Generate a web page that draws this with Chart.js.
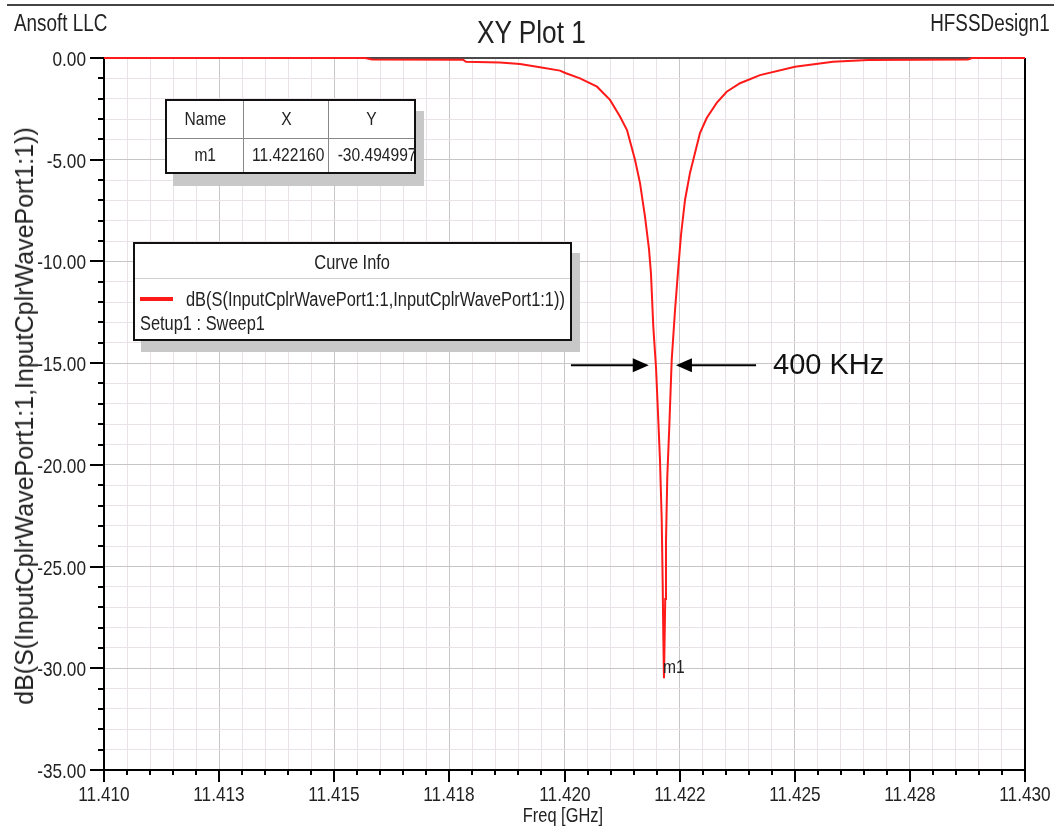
<!DOCTYPE html>
<html>
<head>
<meta charset="utf-8">
<script src="https://cdn.jsdelivr.net/npm/chart.js@4/dist/chart.umd.min.js"></script>
<style>
  body { margin: 0; background: #fff; }
  #wrap { position: relative; width: 1054px; height: 834px; overflow: hidden;
    font-family: "Liberation Sans", Arial, sans-serif; color: #222; }
  #plot { position: absolute; left: 0; top: 0; }
  .abs { position: absolute; white-space: nowrap; }
  /* the original uses a narrow face; squeeze Liberation Sans to match */
  .n { display: inline-block; transform: scaleX(0.82); transform-origin: center; }
  .nl { transform-origin: left center; }
  .nr { transform-origin: right center; }
  #topline { left: 7px; top: 4px; width: 1047px; height: 2px; background: #444; }
  #company { left: 14px; top: 8px; font-size: 23px; line-height: 30px; }
  #title { left: 0; width: 1062px; top: 14px; font-size: 32px; line-height: 36px; text-align: center; }
  #design { right: 4px; top: 8px; font-size: 23px; line-height: 30px; }
  #xtitle { left: 104px; width: 918px; top: 803px; font-size: 20px; line-height: 24px; text-align: center; }
  #ytitle { left: 24px; top: 416px; font-size: 25px; line-height: 28px;
    transform: translate(-50%, -50%) rotate(-90deg); }
  #marker { left: 165px; top: 99px; width: 251px; height: 75px; border-collapse: collapse; table-layout: fixed;
    border: 2px solid #111; background: #fff; box-shadow: 8px 12px 0 #c8c8c8; font-size: 19px; }
  #marker td { border: 1px solid #888; text-align: center; padding: 0; white-space: nowrap; }
  #curveinfo { left: 133px; top: 242px; width: 439px; height: 99px; box-sizing: border-box;
    border: 2px solid #111; background: #fff; box-shadow: 8px 11px 0 #c8c8c8; font-size: 20px; }
  #ci-head { height: 34px; line-height: 36px; text-align: center; border-bottom: 1px solid #d0d0d0; }
  #ci-swatch { left: 5px; top: 53px; width: 33px; height: 4px; background: #ff1a1a; }
  #ci-name { left: 51px; top: 43px; line-height: 24px; }
  #ci-setup { left: 5px; top: 67px; line-height: 24px; }
</style>
</head>
<body>
<div id="wrap">
  <canvas id="plot" width="1054" height="834"></canvas>
  <div id="topline" class="abs"></div>
  <div id="company" class="abs"><span class="n nl">Ansoft LLC</span></div>
  <div id="title" class="abs"><span class="n">XY Plot 1</span></div>
  <div id="design" class="abs"><span class="n nr">HFSSDesign1</span></div>
  <div id="xtitle" class="abs"><span class="n">Freq [GHz]</span></div>
  <div id="ytitle" class="abs">dB(S(InputCplrWavePort1:1,InputCplrWavePort1:1))</div>
  <table id="marker" class="abs">
    <tr style="height:38px"><td style="width:76px"><span class="n">Name</span></td><td style="width:84px"><span class="n">X</span></td><td><span class="n">Y</span></td></tr>
    <tr><td><span class="n">m1</span></td><td><span class="n">11.422160</span></td><td><span class="n">-30.494997</span></td></tr>
  </table>
  <div id="curveinfo" class="abs">
    <div id="ci-head"><span class="n">Curve Info</span></div>
    <div id="ci-swatch" class="abs"></div>
    <div id="ci-name" class="abs"><span class="n nl">dB(S(InputCplrWavePort1:1,InputCplrWavePort1:1))</span></div>
    <div id="ci-setup" class="abs"><span class="n nl">Setup1 : Sweep1</span></div>
  </div>
</div>
<script>
// sweep
const freqGHz = [
  11.410000, 11.415668, 11.415820, 11.417796, 11.417861, 11.418599, 11.419034, 11.419468,
  11.419902, 11.420033, 11.420337, 11.420706, 11.420988, 11.421205, 11.421357, 11.421531,
  11.421640, 11.421748, 11.421835, 11.421878, 11.421928, 11.421987, 11.422037, 11.422074,
  11.422111, 11.422132, 11.422145, 11.422160, 11.422176, 11.422187, 11.422204, 11.422232,
  11.422276, 11.422328, 11.422400, 11.422465, 11.422530, 11.422617, 11.422725, 11.422797,
  11.422942, 11.423088, 11.423305, 11.423522, 11.423811, 11.424245, 11.425005, 11.425831,
  11.426591, 11.428762, 11.428849, 11.430000
];
const s11dB = [
  0, 0, -0.07, -0.08, -0.19, -0.22, -0.30, -0.45,
  -0.62, -0.75, -1.00, -1.41, -2.06, -2.88, -3.54, -5.00,
  -6.15, -7.80, -9.40, -10.6, -13.2, -15.2, -17.8, -19.8,
  -22.7, -25.8, -28.3, -30.494997, -28.3, -26.6, -23.8, -20.6,
  -18.1, -14.85, -12.4, -10.5, -8.7, -6.98, -5.65, -5.00,
  -3.69, -2.95, -2.21, -1.66, -1.24, -0.84, -0.43, -0.18,
  -0.10, -0.07, 0, 0
];

const xTickLabels = ['11.410', '11.413', '11.415', '11.418', '11.420', '11.422', '11.425', '11.428', '11.430'];
const yTickLabels = ['-35.00', '-30.00', '-25.00', '-20.00', '-15.00', '-10.00', '-5.00', '0.00'];

const markerF = 11.422160;
const markerDb = -30.494997;
const bwArrowDb = -15.1;
const bwLeft = [11.42014, 11.42183];
const bwRight = [11.42416, 11.42242];

const FONT = '"Liberation Sans", Arial, sans-serif';
const SQUEEZE = 0.82;
const MAJOR = '#c6c6c6';
const MINOR = '#e9e3e9';

function minorTicks(min, step, count) {
  const out = [];
  for (let i = 0; i <= count; i++) out.push({ value: min + i * step });
  return out;
}

function narrowText(ctx, text, x, y, align) {
  ctx.save();
  ctx.translate(x, y);
  ctx.scale(SQUEEZE, 1);
  ctx.textAlign = align;
  ctx.fillText(text, 0, 0);
  ctx.restore();
}

const decorations = {
  id: 'decorations',
  beforeDatasetsDraw(chart) {
    const { ctx, chartArea: a } = chart;
    ctx.save();
    ctx.lineWidth = 2;
    ctx.strokeStyle = '#4a4a4a';
    ctx.beginPath(); ctx.moveTo(a.left, a.top); ctx.lineTo(a.right, a.top); ctx.stroke();
    ctx.strokeStyle = '#000';
    ctx.beginPath(); ctx.moveTo(a.right, a.top); ctx.lineTo(a.right, a.bottom + 1); ctx.stroke();
    ctx.restore();
  },
  afterDraw(chart) {
    const { ctx, chartArea: a, scales: { x, y } } = chart;
    ctx.save();
    ctx.strokeStyle = '#000';
    ctx.fillStyle = '#222';
    ctx.lineWidth = 2;
    ctx.font = '21px ' + FONT;
    ctx.textBaseline = 'alphabetic';
    x.ticks.forEach((t, i) => {
      const px = Math.round(x.getPixelForValue(t.value));
      const major = i % 5 === 0;
      ctx.beginPath(); ctx.moveTo(px, a.bottom); ctx.lineTo(px, a.bottom + (major ? 12 : 5)); ctx.stroke();
      if (major) narrowText(ctx, xTickLabels[i / 5], px, a.bottom + 31, 'center');
    });
    y.ticks.forEach((t, i) => {
      const py = Math.round(y.getPixelForValue(t.value));
      const major = i % 5 === 0;
      ctx.beginPath(); ctx.moveTo(a.left, py); ctx.lineTo(a.left - (major ? 14 : 6), py); ctx.stroke();
      if (major) narrowText(ctx, yTickLabels[i / 5], a.left - 18, py + 8, 'right');
    });

    // bandwidth arrows
    const ay = y.getPixelForValue(bwArrowDb);
    ctx.fillStyle = '#000';
    [bwLeft, bwRight].forEach(([f0, f1]) => {
      const x0 = x.getPixelForValue(f0), x1 = x.getPixelForValue(f1);
      const dir = Math.sign(x1 - x0);
      ctx.beginPath(); ctx.moveTo(x0, ay); ctx.lineTo(x1 - dir * 14, ay); ctx.stroke();
      ctx.beginPath();
      ctx.moveTo(x1, ay); ctx.lineTo(x1 - dir * 16, ay - 7); ctx.lineTo(x1 - dir * 16, ay + 7);
      ctx.closePath(); ctx.fill();
    });
    ctx.font = '29px ' + FONT;
    ctx.fillStyle = '#111';
    ctx.textBaseline = 'middle';
    ctx.fillText('400 KHz', x.getPixelForValue(bwRight[0]) + 17, ay + 1);

    // marker label
    ctx.font = '19px ' + FONT;
    ctx.fillStyle = '#222';
    narrowText(ctx, 'm1', x.getPixelForValue(markerF) - 1, y.getPixelForValue(markerDb) - 11, 'left');
    ctx.restore();
  }
};

new Chart(document.getElementById('plot').getContext('2d'), {
  type: 'line',
  data: {
    datasets: [{
      data: freqGHz.map((f, i) => ({ x: f, y: s11dB[i] })),
      borderColor: '#ff1a1a',
      borderWidth: 2,
      pointRadius: 0,
      tension: 0,
      clip: false
    }]
  },
  options: {
    responsive: false,
    animation: false,
    devicePixelRatio: 1,
    layout: { padding: { top: 58, right: 29, left: 0, bottom: 0 } },
    plugins: { legend: { display: false }, tooltip: { enabled: false } },
    scales: {
      x: {
        type: 'linear',
        min: 11.41,
        max: 11.43,
        afterBuildTicks: s => { s.ticks = minorTicks(11.41, 0.0005, 40); },
        afterFit: s => { s.height = 64; s.paddingLeft = 0; s.paddingRight = 0; },
        grid: { color: c => (c.index % 5 === 0 ? MAJOR : MINOR), lineWidth: 1, drawTicks: false },
        border: { color: '#000', width: 2 },
        ticks: { display: false }
      },
      y: {
        type: 'linear',
        min: -35,
        max: 0,
        afterBuildTicks: s => { s.ticks = minorTicks(-35, 1, 35); },
        afterFit: s => { s.width = 104; s.paddingTop = 0; s.paddingBottom = 0; },
        grid: { color: c => (c.index % 5 === 0 ? MAJOR : MINOR), lineWidth: 1, drawTicks: false },
        border: { color: '#000', width: 2 },
        ticks: { display: false }
      }
    }
  },
  plugins: [decorations]
});
</script>
</body>
</html>
